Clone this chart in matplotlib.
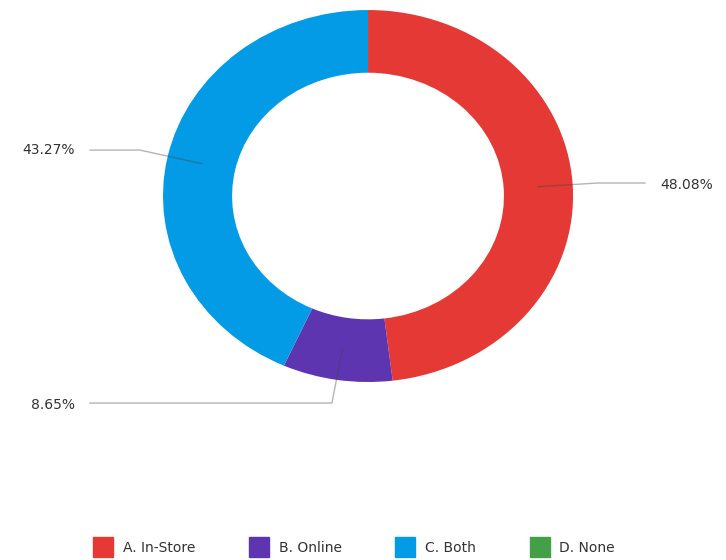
import numpy as np
import matplotlib.pyplot as plt
from matplotlib.lines import Line2D

# values
labels = ["A. In-Store", "B. Online", "C. Both", "D. None"]
shares = [48.08, 8.65, 43.27, 0.0]
colors = ["#E53935", "#5E35B1", "#039BE5", "#43A047"]

fig = plt.figure(figsize=(7.26, 5.6), dpi=100)
ax = fig.add_axes([0, 0, 1, 1])

wedges, _ = ax.pie(shares, colors=colors, startangle=90, counterclock=False,
                   wedgeprops=dict(width=0.337, linewidth=0))
ax.set_aspect("auto")
ax.set_xlim(-1.795, 1.746)
ax.set_ylim(-1.957, 1.054)
ax.axis("off")

# leader lines: (elbow point, end point, text anchor, alignment) per labelled slice
leaders = {
    0: ((1.12, 0.07), (1.351, 0.07), (1.424, 0.059), "left"),
    1: ((-0.176, -1.113), (-1.356, -1.113), (-1.429, -1.124), "right"),
    2: ((-1.112, 0.247), (-1.356, 0.247), (-1.429, 0.247), "right"),
}
for i, (elbow, end, txt, ha) in leaders.items():
    w = wedges[i]
    mid = np.deg2rad((w.theta1 + w.theta2) / 2)
    r = 0.83
    x0, y0 = r * np.cos(mid), r * np.sin(mid)
    ax.plot([x0, elbow[0], end[0]], [y0, elbow[1], end[1]],
            color="#444444", alpha=0.4, lw=1)
    ax.text(txt[0], txt[1], f"{shares[i]:.2f}%", ha=ha, va="center",
            fontsize=10, color="#333333")

handles = [Line2D([], [], marker="s", ls="", markersize=15, color=c) for c in colors]
fig.legend(handles, labels, loc="center", bbox_to_anchor=(0.485, 1 - 548 / 560),
           ncol=4, frameon=False, fontsize=10, handletextpad=0.4,
           columnspacing=3.6, labelcolor="#333333")

fig.savefig("out.png", dpi=100)
